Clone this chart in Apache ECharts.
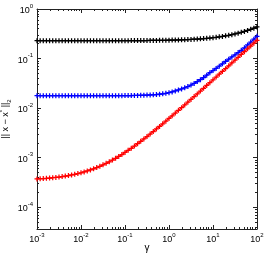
<!DOCTYPE html>
<html>
<head>
<meta charset="utf-8">
<script src="https://cdn.jsdelivr.net/npm/echarts@6/dist/echarts.min.js"></script>
<style>html,body{margin:0;padding:0;background:#fff}#c{width:266px;height:256px}</style>
</head>
<body>
<div id="c"></div>
<script>
var gamma = [
0.001,0.001179,0.001389,0.001638,0.001931,0.002276,0.002683,0.003162,0.003728,0.004394,0.00518,0.006106,0.007198,0.008485,
0.01,0.01179,0.01389,0.01638,0.01931,0.02276,0.02683,0.03162,0.03728,0.04394,0.0518,0.06106,0.07198,0.08485,
0.1,0.1179,0.1389,0.1638,0.1931,0.2276,0.2683,0.3162,0.3728,0.4394,0.518,0.6106,0.7198,0.8485,
1,1.179,1.389,1.638,1.931,2.276,2.683,3.162,3.728,4.394,5.18,6.106,7.198,8.485,
10,11.79,13.89,16.38,19.31,22.76,26.83,31.62,37.28,43.94,51.8,61.06,71.98,84.85,
100];
var errBlack = [
0.229,0.229,0.229,0.229,0.229,0.229,0.229,0.229,0.229,0.229,0.229,0.229,0.229,0.229,
0.229,0.229,0.229,0.229,0.229,0.229,0.229,0.229,0.229,0.2292,0.2292,0.2292,0.2295,0.2295,
0.2300,0.2301,0.2303,0.2305,0.2307,0.2309,0.2312,0.2315,0.2318,0.2322,0.2326,0.2331,0.2336,0.2342,
0.2349,0.2357,0.2367,0.2377,0.2389,0.2402,0.2417,0.2434,0.2454,0.2476,0.2501,0.2530,0.2562,0.2599,
0.2640,0.2688,0.2741,0.2802,0.2871,0.2950,0.3038,0.3139,0.3254,0.3384,0.3532,0.370,0.389,0.4105,
0.435];
var errBlue = [
0.0178,0.0178,0.0178,0.0178,0.0178,0.0178,0.0178,0.0178,0.0178,0.0178,0.0178,0.0178,0.0178,0.0178,
0.0178,0.0178,0.0178,0.0178,0.0178,0.0178,0.0178,0.0178,0.0178,0.01783,0.01784,0.01785,0.01787,0.01788,
0.01791,0.01793,0.01797,0.01801,0.01806,0.01813,0.01822,0.01832,0.01846,0.01863,0.01885,0.01912,0.01947,0.01992,
0.0205,0.02124,0.02218,0.02326,0.02436,0.02571,0.02732,0.02926,0.0316,0.0343,0.0376,0.0415,0.0462,0.0518,
0.0574,0.0634,0.0704,0.0783,0.0875,0.0974,0.1077,0.1194,0.1326,0.1472,0.1644,0.188,0.215,0.246,
0.282];
var errRed = [
0.000373,0.000377,0.000380,0.000384,0.000389,0.000395,0.000401,0.000408,0.000417,0.000426,0.000437,0.000449,0.000463,0.000479,
0.000497,0.000517,0.000541,0.000568,0.000598,0.000633,0.000673,0.000718,0.000770,0.000829,0.000896,0.000973,0.00106,0.00116,
0.00128,0.00141,0.00155,0.00172,0.00192,0.00214,0.00239,0.00267,0.00300,0.00337,0.00380,0.00428,0.00484,0.00547,
0.00619,0.00701,0.00795,0.00902,0.0102,0.0116,0.0132,0.0150,0.0171,0.0194,0.0221,0.0252,0.0287,0.0326,
0.0372,0.0423,0.0483,0.0550,0.0627,0.0715,0.0815,0.0929,0.106,0.121,0.138,0.157,0.179,0.204,
0.233];
var xMajor = [0.001,0.01,0.1,1,10,100];
var yMajor = [0.0001,0.001,0.01,0.1,1];
var xMinor = [0.002,0.003,0.004,0.005,0.006,0.007,0.008,0.009,0.02,0.03,0.04,0.05,0.06,0.07,0.08,0.09,
0.2,0.3,0.4,0.5,0.6,0.7,0.8,0.9,2,3,4,5,6,7,8,9,20,30,40,50,60,70,80,90];
var yMinor = [0.00004,0.00005,0.00006,0.00007,0.00008,0.00009,0.0002,0.0003,0.0004,0.0005,0.0006,0.0007,0.0008,0.0009,
0.002,0.003,0.004,0.005,0.006,0.007,0.008,0.009,0.02,0.03,0.04,0.05,0.06,0.07,0.08,0.09,0.2,0.3,0.4,0.5,0.6,0.7,0.8,0.9];
var xMin = 0.001, xMax = 100, yMin = 0.0000365, yMax = 1;

var FONT = 'Liberation Sans';
var plusPath = 'path://M-0.25,-1H0.25V-0.25H1V0.25H0.25V1H-0.25V0.25H-1V-0.25H-0.25Z';
function pow10Label(v){
  var e = Math.round(Math.log(v)/Math.LN10);
  return '{b|10}{s|' + e + '}';
}
var rich = {
  b:{fontFamily:FONT,fontSize:9,color:'#000',lineHeight:12,verticalAlign:'bottom'},
  s:{fontFamily:FONT,fontSize:6,color:'#000',lineHeight:12,verticalAlign:'top'}
};
var lineCol = '#222';
function xAx(grid, pos, majors, len, labels, line){
  return {type:'log', gridIndex:grid, position:pos, min:xMin, max:xMax, logBase:10,
    axisLine:{show:line, onZero:false, lineStyle:{color:lineCol,width:1}},
    axisTick:{show:true, inside:true, length:len, customValues:majors, lineStyle:{color:lineCol,width:1}},
    axisLabel:{show:labels, customValues:majors, formatter:pow10Label, rich:rich, margin:3},
    splitLine:{show:false}, minorTick:{show:false}};
}
function yAx(grid, pos, majors, len, labels, line){
  return {type:'log', gridIndex:grid, position:pos, min:yMin, max:yMax, logBase:10,
    axisLine:{show:line, onZero:false, lineStyle:{color:lineCol,width:1}},
    axisTick:{show:true, inside:true, length:len, customValues:majors, lineStyle:{color:lineCol,width:1}},
    axisLabel:{show:labels, customValues:majors, formatter:pow10Label, rich:rich, margin:4},
    splitLine:{show:false}, minorTick:{show:false}};
}
var xs = [xAx(0,'bottom',xMajor,4,true,true), xAx(0,'top',xMajor,4,false,true),
          xAx(1,'bottom',xMinor,2,false,false), xAx(1,'top',xMinor,2,false,false)];
var ys = [yAx(0,'left',yMajor,4,true,true), yAx(0,'right',yMajor,4,false,true),
          yAx(1,'left',yMinor,2,false,false), yAx(1,'right',yMinor,2,false,false)];
xs[0].name = 'γ';
xs[0].nameLocation = 'middle';
xs[0].nameGap = 14;
xs[0].nameMoveOverlap = false;
xs[0].nameTextStyle = {fontFamily:FONT,fontSize:10,color:'#000'};
ys[0].name = '{a||| x − x}{s|*}{a| ||}{u|2}';
ys[0].nameLocation = 'middle';
ys[0].nameGap = 25;
ys[0].nameMoveOverlap = false;
ys[0].nameTextStyle = {fontFamily:FONT,fontSize:9,color:'#000', rich:{
  a:{fontFamily:FONT,fontSize:9,color:'#000',lineHeight:13,verticalAlign:'middle'},
  s:{fontFamily:FONT,fontSize:6,color:'#000',lineHeight:13,verticalAlign:'top'},
  u:{fontFamily:FONT,fontSize:6,color:'#000',lineHeight:13,verticalAlign:'bottom'}
}};
function mk(name, vals, col){
  return {name:name, type:'line', xAxisIndex:0, yAxisIndex:0,
    data: gamma.map(function(g,i){return [g, vals[i]];}),
    symbol: plusPath, symbolSize:5, showSymbol:true,
    lineStyle:{color:col,width:1.2}, itemStyle:{color:col},
    animation:false, silent:true};
}
var chart = echarts.init(document.getElementById('c'), null, {renderer:'canvas'});
chart.setOption({
  backgroundColor:'#fff',
  animation:false,
  grid:[{left:37,right:9,top:9,bottom:27,containLabel:false,outerBoundsMode:'none'},
        {left:37,right:9,top:9,bottom:27,containLabel:false,outerBoundsMode:'none'}],
  xAxis: xs,
  yAxis: ys,
  series:[mk('black',errBlack,'#000000'), mk('blue',errBlue,'#0000ff'), mk('red',errRed,'#ff0000')]
});
</script>
</body>
</html>
